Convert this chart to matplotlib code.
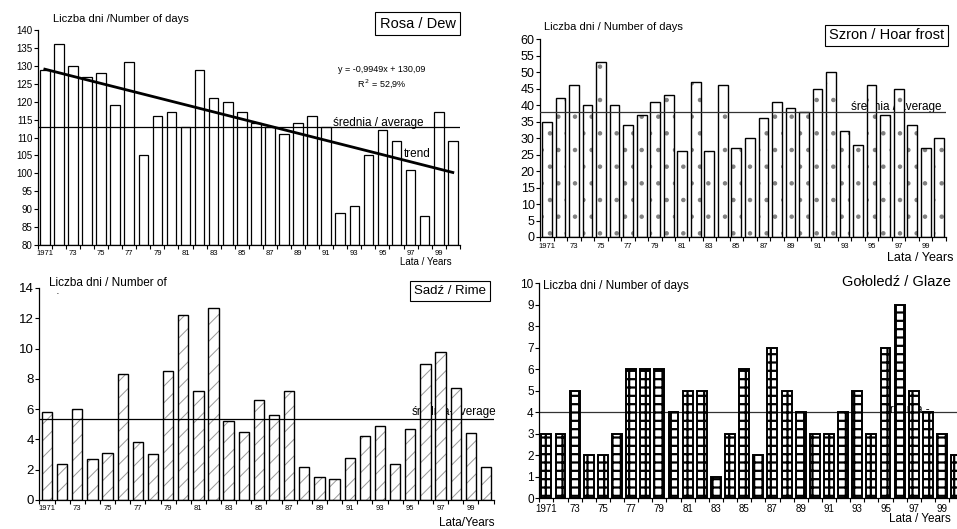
import matplotlib.pyplot as plt
import numpy as np

plt.rcParams['font.family'] = ['Liberation Sans', 'DejaVu Sans']
plt.rcParams['hatch.linewidth'] = 0.8

years = list(range(1971, 2001))
year_labels = ["1971"] + ["%02d" % (y % 100) if (y - 1971) % 2 == 0 else "" for y in years[1:]]

dew = [129, 136, 130, 127, 128, 119, 131, 105, 116, 117, 113, 129, 121, 120, 117,
       114, 113, 111, 114, 116, 113, 89, 91, 105, 112, 109, 101, 88, 117, 109]
hoar_frost = [35, 42, 46, 40, 53, 40, 34, 37, 41, 43, 26, 47, 26, 46, 27,
              30, 36, 41, 39, 38, 45, 50, 32, 28, 46, 37, 45, 34, 27, 30]
rime = [5.8, 2.4, 6.0, 2.7, 3.1, 8.3, 3.8, 3.0, 8.5, 12.2, 7.2, 12.7, 5.2, 4.5, 6.6,
        5.6, 7.2, 2.2, 1.5, 1.4, 2.8, 4.2, 4.9, 2.4, 4.7, 9.0, 9.8, 7.4, 4.4, 2.2]
glaze = [3, 3, 5, 2, 2, 3, 6, 6, 6, 4, 5, 5, 1, 3, 6,
         2, 7, 5, 4, 3, 3, 4, 5, 3, 7, 9, 5, 4, 3, 2]

dew_avg = 113
hoar_avg = 38
rime_avg = 5.35
glaze_avg = 4
trend_a, trend_b = -0.9949, 130.09

x = np.arange(1, 31)

fig = plt.figure(figsize=(9.57, 5.29), dpi=100)


def setup(ax, ylim, yticks, ysize, xsize):
    ax.set_xlim(0.5, 30.5)
    ax.set_ylim(*ylim)
    ax.set_yticks(yticks)
    ax.tick_params(axis='y', labelsize=ysize, length=3, width=0.8, pad=1)
    ax.set_xticks(x)
    ax.set_xticklabels(year_labels, fontsize=xsize)
    ax.tick_params(axis='x', which='major', length=0, pad=4)
    ax.set_xticks(np.arange(0.5, 31, 1), minor=True)
    ax.tick_params(axis='x', which='minor', length=3, width=0.8)
    for s in ['top', 'right']:
        ax.spines[s].set_visible(False)
    ax.spines['left'].set_linewidth(0.9)
    ax.spines['bottom'].set_linewidth(0.9)


def hatched_bars(ax, vals, width, hatch, hcolor, hlw=0.8, elw=1.0):
    with plt.rc_context({'hatch.linewidth': hlw}):
        ax.bar(x, vals, width, color='white', edgecolor=hcolor,
               linewidth=0, hatch=hatch, zorder=2)
    ax.bar(x, vals, width, fill=False, edgecolor='black',
           linewidth=elw, zorder=3)


# Rosa / Dew
ax1 = fig.add_axes([0.0395, 0.537, 0.441, 0.406])
setup(ax1, (80, 140), range(80, 141, 5), 7, 5.5)
d = [v - 80 for v in dew]
ax1.bar(x, d, 0.68, bottom=80, color='white', edgecolor='black', linewidth=0.9, zorder=2)
ax1.axhline(dew_avg, color='black', linewidth=0.9, zorder=4)
ax1.plot(x, trend_a * x + trend_b, color='black', linewidth=2, zorder=5)
ax1.text(0.915, 0.567, "średnia / average", transform=ax1.transAxes, fontsize=8.5,
         ha='right', va='center', zorder=1)
ax1.text(0.93, 0.425, "trend", transform=ax1.transAxes, fontsize=8.5,
         ha='right', va='center', zorder=1)
ax1.text(0.815, 0.815, "y = -0,9949x + 130,09", transform=ax1.transAxes, fontsize=6.5,
         ha='center', va='center')
ax1.text(0.815, 0.753, "R$^{\\,2}$ = 52,9%", transform=ax1.transAxes, fontsize=6.5,
         ha='center', va='center')
ax1.text(0.99, 1.03, "Rosa / Dew", transform=ax1.transAxes, fontsize=10.5,
         ha='right', va='center',
         bbox=dict(boxstyle='square,pad=0.3', facecolor='white', edgecolor='black', linewidth=0.8))
ax1.text(0.035, 1.05, "Liczba dni /Number of days", transform=ax1.transAxes, fontsize=8,
         ha='left', va='center')
ax1.text(0.92, -0.08, "Lata / Years", transform=ax1.transAxes, fontsize=7,
         ha='center', va='center')

# Szron / Hoar frost
ax2 = fig.add_axes([0.5645, 0.552, 0.424, 0.374])
setup(ax2, (0, 60), range(0, 61, 5), 9, 5.5)
hatched_bars(ax2, hoar_frost, 0.72, '.', '#808080')
ax2.axhline(hoar_avg, color='#333333', linewidth=0.9, zorder=4)
ax2.text(0.99, 0.655, "średnia / average", transform=ax2.transAxes, fontsize=8.5,
         ha='right', va='center', zorder=1)
ax2.text(0.995, 1.02, "Szron / Hoar frost", transform=ax2.transAxes, fontsize=10.5,
         ha='right', va='center',
         bbox=dict(boxstyle='square,pad=0.25', facecolor='white', edgecolor='black', linewidth=0.8))
ax2.text(0.01, 1.06, "Liczba dni / Number of days", transform=ax2.transAxes, fontsize=8,
         ha='left', va='center')
fig.text(0.996, 0.512, "Lata / Years", fontsize=9, ha='right', va='center')

# Sadź / Rime
ax3 = fig.add_axes([0.0412, 0.055, 0.4745, 0.4006])
setup(ax3, (0, 14), range(0, 15, 2), 9.5, 5.5)
hatched_bars(ax3, rime, 0.68, '//', '#999999', hlw=0.7)
ax3.axhline(rime_avg, color='black', linewidth=0.9, zorder=4)
ax3.text(1.005, 0.415, "średnia-average", transform=ax3.transAxes, fontsize=8.5,
         ha='right', va='center', zorder=1)
ax3.text(0.905, 0.985, "Sadź / Rime", transform=ax3.transAxes, fontsize=9.5,
         ha='center', va='center',
         bbox=dict(boxstyle='square,pad=0.3', facecolor='white', edgecolor='black', linewidth=0.8))
ax3.text(0.02, 1.025, "Liczba dni / Number of", transform=ax3.transAxes, fontsize=8.5,
         ha='left', va='center')
ax3.text(0.035, 0.97, "·", transform=ax3.transAxes, fontsize=8, ha='left', va='center')
ax3.text(0.94, -0.11, "Lata/Years", transform=ax3.transAxes, fontsize=8.5,
         ha='center', va='center')

# Gołoledź / Glaze
ax4 = fig.add_axes([0.5635, 0.0586, 0.443, 0.4064])
setup(ax4, (0, 10), range(0, 11, 1), 8.5, 7)
hatched_bars(ax4, glaze, 0.7, '++', 'black', hlw=1.6, elw=1.4)
ax4.axhline(glaze_avg, color='#333333', linewidth=0.9, zorder=1)
ax4.text(0.92, 0.41, "średnia -", transform=ax4.transAxes, fontsize=8.5,
         ha='right', va='center', zorder=1)
ax4.text(0.97, 1.005, "Gołoledź / Glaze", transform=ax4.transAxes, fontsize=10.5,
         ha='right', va='center')
ax4.text(0.008, 0.985, "Liczba dni / Number of days", transform=ax4.transAxes, fontsize=8.5,
         ha='left', va='center')
fig.text(0.993, 0.019, "Lata / Years", fontsize=8.5, ha='right', va='center')

fig.savefig("out.png", dpi=100)
